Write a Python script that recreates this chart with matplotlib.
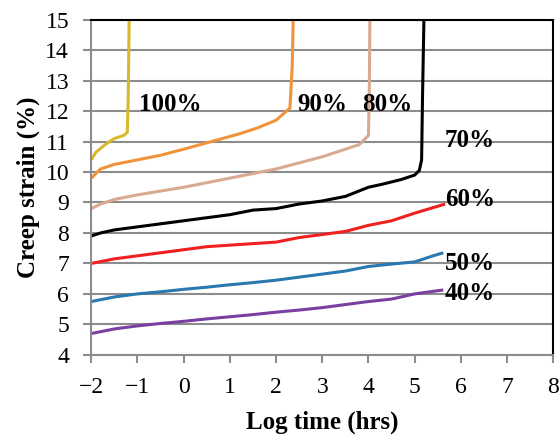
import numpy as np
import matplotlib.pyplot as plt

plt.rcParams['font.family'] = ['Liberation Serif', 'DejaVu Serif']

# log time (hrs) and creep strain (%) for each stress level
x100 = [-2.0, -1.9, -1.7, -1.5, -1.3, -1.22, -1.2, -1.18]
y100 = [10.4, 10.65, 10.9, 11.1, 11.2, 11.3, 12.5, 15.0]

x90 = [-2.0, -1.8, -1.5, -1.0, -0.5, 0.0, 0.6, 1.2, 1.6, 2.0, 2.3, 2.35, 2.37]
y90 = [9.8, 10.1, 10.25, 10.4, 10.55, 10.75, 11.0, 11.25, 11.45, 11.7, 12.1, 13.5, 15.0]

x80 = [-2.0, -1.8, -1.5, -1.0, 0.0, 1.0, 2.0, 2.5, 3.0, 3.5, 3.8, 4.0, 4.02, 4.03]
y80 = [8.8, 8.95, 9.1, 9.25, 9.5, 9.8, 10.1, 10.3, 10.5, 10.75, 10.9, 11.2, 13.0, 15.0]

x70 = [-2.0, -1.8, -1.5, -1.0, 0.0, 1.0, 1.5, 2.0, 2.5, 3.0, 3.5, 4.0, 4.3, 4.7, 5.0,
       5.1, 5.15, 5.17, 5.2]
y70 = [7.9, 8.0, 8.1, 8.2, 8.4, 8.6, 8.75, 8.8, 8.95, 9.05, 9.2, 9.5, 9.6, 9.75, 9.9,
       10.05, 10.4, 12.5, 15.0]

x60 = [-2.0, -1.5, -1.0, -0.5, 0.0, 0.5, 1.0, 1.5, 2.0, 2.5, 3.0, 3.5, 4.0, 4.5, 5.0, 5.66]
y60 = [7.0, 7.15, 7.25, 7.35, 7.45, 7.55, 7.6, 7.65, 7.7, 7.85, 7.95, 8.05, 8.25, 8.4, 8.65, 8.95]

x50 = [-2.0, -1.5, -1.0, -0.5, 0.0, 0.5, 1.0, 1.5, 2.0, 2.5, 3.0, 3.5, 4.0, 4.5, 5.0, 5.4, 5.62]
y50 = [5.75, 5.9, 6.0, 6.07, 6.15, 6.22, 6.3, 6.37, 6.45, 6.55, 6.65, 6.75, 6.9, 6.98, 7.05, 7.25, 7.35]

x40 = [-2.0, -1.5, -1.0, -0.5, 0.0, 0.5, 1.0, 1.5, 2.0, 2.5, 3.0, 3.5, 4.0, 4.5, 5.0, 5.62]
y40 = [4.7, 4.85, 4.95, 5.03, 5.1, 5.18, 5.25, 5.32, 5.4, 5.47, 5.55, 5.65, 5.75, 5.83, 6.0, 6.13]

series = [
    (x100, y100, '#d8b82c'),
    (x90, y90, '#f0943c'),
    (x80, y80, '#d8aa90'),
    (x70, y70, '#000000'),
    (x60, y60, '#f02020'),
    (x50, y50, '#2a78b0'),
    (x40, y40, '#7a3fa2'),
]

labels = ['100%', '90%', '80%', '70%', '60%', '50%', '40%']
label_x = [-0.3, 3.0, 4.4, 6.2, 6.2, 6.2, 6.2]
label_y = [12.2, 12.2, 12.2, 11.05, 9.1, 7.0, 6.0]

fig = plt.figure(figsize=(5.6, 4.37), dpi=100)
ax = fig.add_axes([0.163, 0.188, 0.825, 0.767])

for xs, ys, c in series:
    ax.plot(xs, ys, color=c, lw=2.2, solid_capstyle='butt')

for t, lx, ly in zip(labels, label_x, label_y):
    ax.text(lx, ly, t, fontsize=18, fontweight='bold', ha='center', va='center')

ax.set_xlim(-2, 8)
ax.set_ylim(4, 15)
ax.set_xticks(np.arange(-2, 9, 1))
ax.set_yticks(np.arange(4, 16, 1))
ax.yaxis.grid(True, color='#8c8c8c', lw=1.5)
ax.set_axisbelow(True)

for s in ['left', 'bottom']:
    ax.spines[s].set_color('#8c8c8c')
    ax.spines[s].set_linewidth(1.5)
for s in ['top', 'right']:
    ax.spines[s].set_color('black')
    ax.spines[s].set_linewidth(1.5)

ax.tick_params(axis='both', labelsize=17, color='#8c8c8c', width=1.5, length=6)
ax.tick_params(axis='x', pad=10)
ax.tick_params(axis='y', pad=10)
ax.set_xlabel('Log time (hrs)', fontsize=18, fontweight='bold', labelpad=9)
ax.set_ylabel('Creep strain (%)', fontsize=18, fontweight='bold', labelpad=4)

fig.savefig('out.png', dpi=100)
